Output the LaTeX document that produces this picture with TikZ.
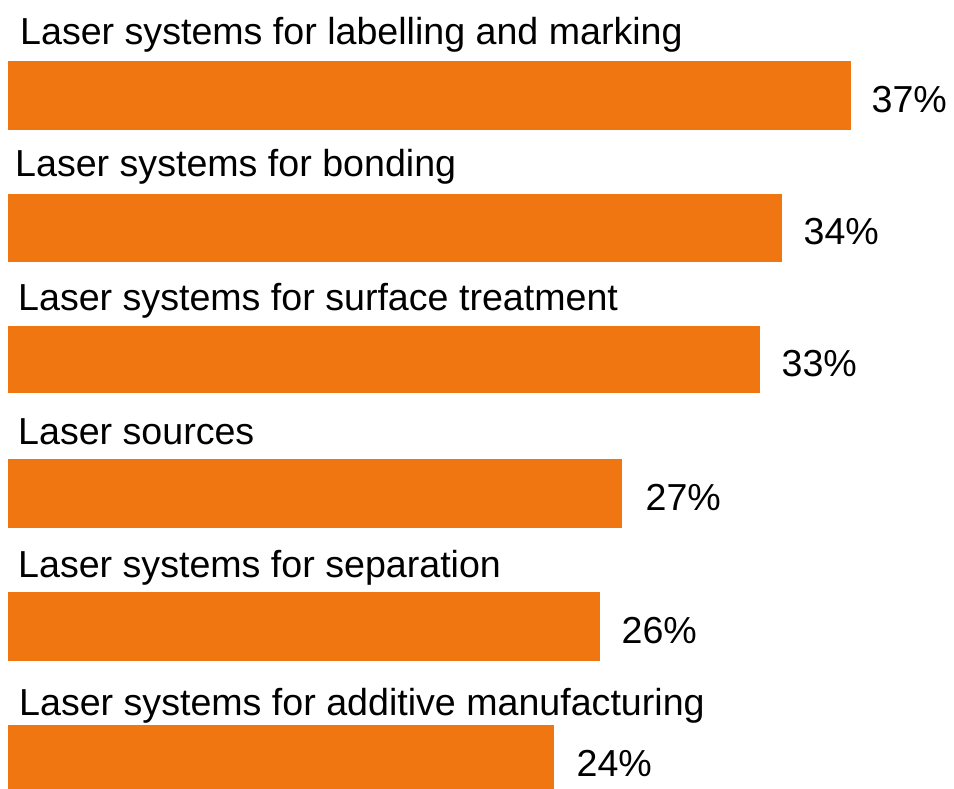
\documentclass[tikz,border=0pt]{standalone}
\usepackage{fontspec}
\setmainfont{Liberation Sans}
\definecolor{barorange}{RGB}{240,118,18}
\begin{document}
\begin{tikzpicture}[x=1pt,y=-1pt,
  bar/.style={fill=barorange,draw=none,inner sep=0pt,anchor=north west},
  cat/.style={anchor=base west,inner sep=0pt,font=\fontsize{37.6}{40}\selectfont,text=black},
  pct/.style={anchor=base west,inner sep=0pt,font=\fontsize{37.6}{40}\selectfont,text=black}]
\useasboundingbox (0,0) rectangle (954,789);
\begin{scope}
\clip (0,0) rectangle (954,789);
\node[bar,minimum width=843pt,minimum height=69pt] (b1) at (8,61) {};
\node[bar,minimum width=774pt,minimum height=68pt] (b2) at (8,194) {};
\node[bar,minimum width=752pt,minimum height=67pt] (b3) at (8,326) {};
\node[bar,minimum width=614pt,minimum height=69pt] (b4) at (8,459) {};
\node[bar,minimum width=592pt,minimum height=69pt] (b5) at (8,592) {};
\node[bar,minimum width=546pt,minimum height=70pt] (b6) at (8,725) {};
\end{scope}
\node[cat] (t1) at (20,45) {Laser systems for labelling and marking};
\node[cat] (t2) at (15,177) {Laser systems for bonding};
\node[cat] (t3) at (18,310) {Laser systems for surface treatment};
\node[cat] (t4) at (18,444) {Laser sources};
\node[cat] (t5) at (18,577) {Laser systems for separation};
\node[cat] (t6) at (19,715) {Laser systems for additive manufacturing};
\node[pct] (p1) at ([xshift=20pt,yshift=-16.5pt]b1.east) {37\%};
\node[pct] (p2) at ([xshift=21pt,yshift=-16pt]b2.east) {34\%};
\node[pct] (p3) at ([xshift=21pt,yshift=-16.5pt]b3.east) {33\%};
\node[pct] (p4) at ([xshift=23pt,yshift=-16.5pt]b4.east) {27\%};
\node[pct] (p5) at ([xshift=21pt,yshift=-16.5pt]b5.east) {26\%};
\node[pct] (p6) at ([xshift=22pt,yshift=-16.5pt]b6.east) {24\%};
\end{tikzpicture}
\end{document}
